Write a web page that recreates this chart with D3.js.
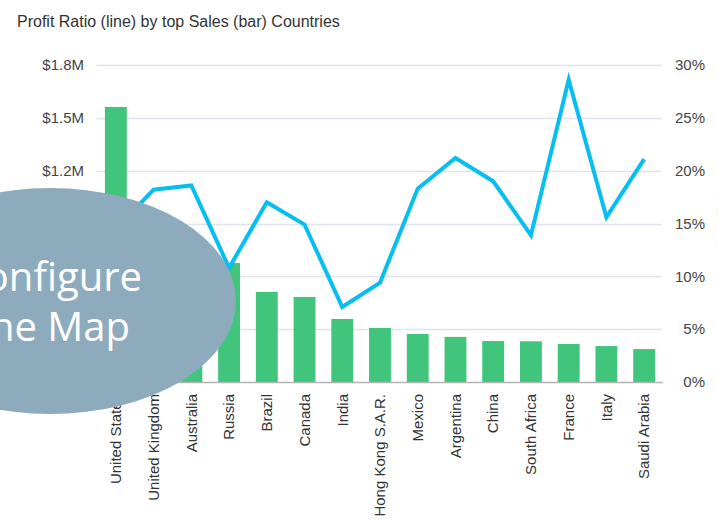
<!DOCTYPE html>
<html>
<head>
<meta charset="utf-8">
<script src="https://cdn.jsdelivr.net/npm/d3@7"></script>
<style>
  html, body { margin: 0; padding: 0; background: #fff; }
  svg { display: block; font-family: 'Liberation Sans', Arial, Helvetica, sans-serif; }
</style>
</head>
<body>
<div id="chart"></div>
<script>
const countries = ['United States', 'United Kingdom', 'Australia', 'Russia', 'Brazil', 'Canada', 'India',
  'Hong Kong S.A.R.', 'Mexico', 'Argentina', 'China', 'South Africa', 'France', 'Italy', 'Saudi Arabia']
const sales = [1562000, 930000, 780000, 676000, 511000, 483000, 358000,
  307000, 273000, 256000, 233000, 231000, 216000, 204000, 187000]
const profitRatio = [0.145, 0.182, 0.186, 0.108, 0.170, 0.149, 0.071,
  0.094, 0.183, 0.212, 0.190, 0.139, 0.286, 0.156, 0.211]
const salesTicks = [0, 300000, 600000, 900000, 1200000, 1500000, 1800000]
const ratioTicks = [0, 0.05, 0.10, 0.15, 0.20, 0.25, 0.30]

const width = 718
const height = 519
const plot = { left: 97, right: 663, top: 65, bottom: 382 }

const svg = d3.select('#chart')
  .append('svg')
  .attr('width', width)
  .attr('height', height)

const x = d3.scaleBand()
  .domain(countries)
  .range([plot.left, plot.right])
  .paddingInner(0.42)
  .paddingOuter(0.21)
const ySales = d3.scaleLinear()
  .domain([0, 1800000])
  .range([plot.bottom, plot.top])
const yRatio = d3.scaleLinear()
  .domain([0, 0.30])
  .range([plot.bottom, plot.top])

// title
svg.append('text')
  .attr('x', 17)
  .attr('y', 27)
  .attr('font-size', 16)
  .attr('fill', '#333')
  .text('Profit Ratio (line) by top Sales (bar) Countries')

// gridlines
svg.append('g')
  .selectAll('line')
  .data(ratioTicks.filter(d => d > 0))
  .enter().append('line')
  .attr('x1', plot.left)
  .attr('x2', plot.right - 1)
  .attr('y1', d => Math.round(yRatio(d)) + 0.5)
  .attr('y2', d => Math.round(yRatio(d)) + 0.5)
  .attr('stroke', '#dfe3ec')
  .attr('stroke-width', 1.5)

// left axis ($)
const leftAxis = svg.append('g')
  .attr('transform', `translate(${plot.left},0)`)
  .call(d3.axisLeft(ySales)
    .tickValues(salesTicks)
    .tickSize(0)
    .tickPadding(13)
    .tickFormat(d => (d === 0 ? '$0' : `$${(d / 1e6).toFixed(1)}M`)))
leftAxis.select('.domain').remove()
leftAxis.selectAll('text')
  .attr('font-size', 15)
  .attr('font-family', null)
  .attr('fill', '#444')

// right axis (%)
const rightAxis = svg.append('g')
  .attr('transform', `translate(${plot.right},0)`)
  .call(d3.axisRight(yRatio)
    .tickValues(ratioTicks)
    .tickSize(0)
    .tickFormat(d => `${Math.round(d * 100)}%`))
rightAxis.select('.domain').remove()
rightAxis.selectAll('text')
  .attr('x', 42)
  .attr('text-anchor', 'end')
  .attr('font-size', 15)
  .attr('font-family', null)
  .attr('fill', '#444')

// right axis title, mostly cut by the window edge
svg.append('text')
  .attr('transform', 'translate(727,217) rotate(-90)')
  .attr('text-anchor', 'middle')
  .attr('font-size', 13)
  .attr('fill', '#888')
  .text('Profit Ratio')

// bars
svg.append('g')
  .selectAll('rect')
  .data(countries)
  .enter().append('rect')
  .attr('x', d => x(d))
  .attr('width', x.bandwidth())
  .attr('y', (d, i) => ySales(sales[i]))
  .attr('height', (d, i) => plot.bottom - ySales(sales[i]))
  .attr('fill', '#41c57c')

// baseline
svg.append('line')
  .attr('x1', plot.left)
  .attr('x2', plot.right)
  .attr('y1', plot.bottom + 0.5)
  .attr('y2', plot.bottom + 0.5)
  .attr('stroke', '#b4b4b4')
  .attr('stroke-width', 1.5)

// country labels
svg.append('g')
  .selectAll('text')
  .data(countries)
  .enter().append('text')
  .attr('transform', d => `translate(${x(d) + x.bandwidth() / 2},${plot.bottom + 12}) rotate(-90)`)
  .attr('text-anchor', 'end')
  .attr('dy', '0.35em')
  .attr('font-size', 15)
  .attr('fill', '#333')
  .text(d => d)

// profit ratio line
const line = d3.line()
  .x((d, i) => x(countries[i]) + x.bandwidth() / 2)
  .y(d => yRatio(d))
svg.append('path')
  .datum(profitRatio)
  .attr('d', line)
  .attr('fill', 'none')
  .attr('stroke', '#06bff0')
  .attr('stroke-width', 4)
  .attr('stroke-linejoin', 'miter')

// overlay callout
svg.append('ellipse')
  .attr('cx', 50)
  .attr('cy', 301)
  .attr('rx', 186)
  .attr('ry', 113)
  .attr('fill', '#8dabbd')

const callout = svg.append('g')
  .attr('font-family', "'Open Sans', Lato, sans-serif")
  .attr('font-size', 40)
  .attr('fill', '#fff')
  .attr('text-anchor', 'end')
callout.append('text')
  .attr('x', 142)
  .attr('y', 291)
  .text('Configure')
callout.append('text')
  .attr('x', 130)
  .attr('y', 341)
  .text('the Map')
</script>
</body>
</html>
